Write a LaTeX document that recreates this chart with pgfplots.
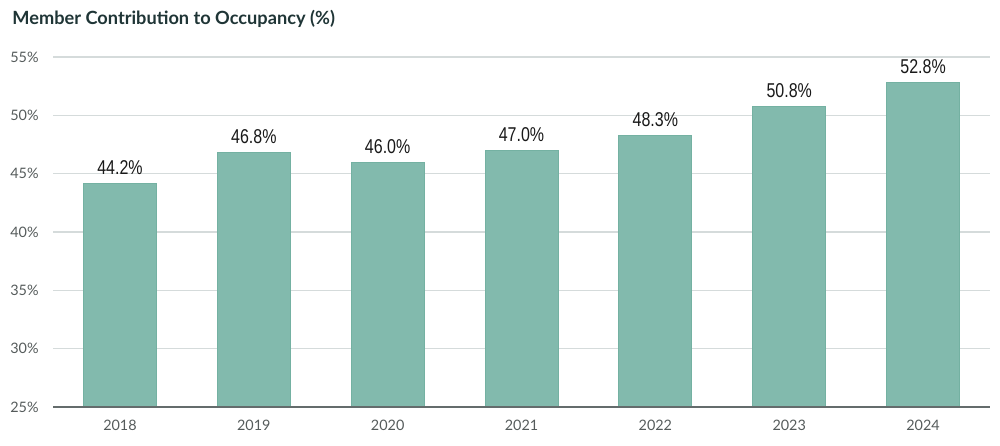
\documentclass[border=0pt]{standalone}
\usepackage{pgfplots}
\pgfplotsset{compat=1.18}
\usepackage{fontspec}
\setmainfont{Lato}
\newfontfamily\labelfont{Liberation Sans}
\definecolor{barfill}{HTML}{82BAAD}
\definecolor{baredge}{HTML}{74B1A2}
\definecolor{gridgrey}{HTML}{D5DBDB}
\definecolor{axisdark}{HTML}{646C6C}
\definecolor{ticktext}{HTML}{555B5B}
\definecolor{titlecol}{HTML}{1F3536}
\begin{document}
\begin{tikzpicture}
\begin{axis}[
	width=468.5pt, height=175pt, scale only axis,
	xmin=-0.5, xmax=6.5, ymin=25, ymax=55,
	ytick={25,30,...,55},
	yticklabel={\pgfmathprintnumber{\tick}\%},
	xtick={0,...,6},
	xticklabels={2018,2019,2020,2021,2022,2023,2024},
	ybar, bar width=36.5pt,
	axis line style={draw=none},
	major tick length=0pt,
	ymajorgrids, grid style={gridgrey, line width=0.6pt},
	tick label style={font=\fontsize{7.2}{8}\selectfont, text=ticktext},
	yticklabel style={anchor=east, inner sep=0pt, xshift=-7pt},
	xticklabel style={anchor=north, inner sep=0pt, yshift=-6.5pt},
	/pgf/number format/assume math mode=true,
	clip=false,
	nodes near coords={\scalebox{0.8}[1]{\labelfont\fontsize{10}{12}\selectfont\pgfmathprintnumber[fixed,fixed zerofill,precision=1]{\pgfplotspointmeta}\%}},
	nodes near coords style={anchor=base, yshift=4.5pt, text=black!90, inner sep=0pt},
]
\addplot[fill=barfill, draw=baredge, line width=0.5pt]
	coordinates {(0,44.2) (1,46.8) (2,46.0) (3,47.0) (4,48.3) (5,50.8) (6,52.8)};

\draw[axisdark, line width=0.8pt] (rel axis cs:0,0) -- (rel axis cs:1,0);
\node[anchor=base west, inner sep=0pt, font=\bfseries\fontsize{9.1}{11}\selectfont, text=titlecol]
	at (rel axis cs:-0.0438,1.0943) {Member Contribution to Occupancy (\%)};
\path (rel axis cs:-0.0566,-0.1086) rectangle (rel axis cs:1.0107,1.1629);
\end{axis}
\end{tikzpicture}
\end{document}
